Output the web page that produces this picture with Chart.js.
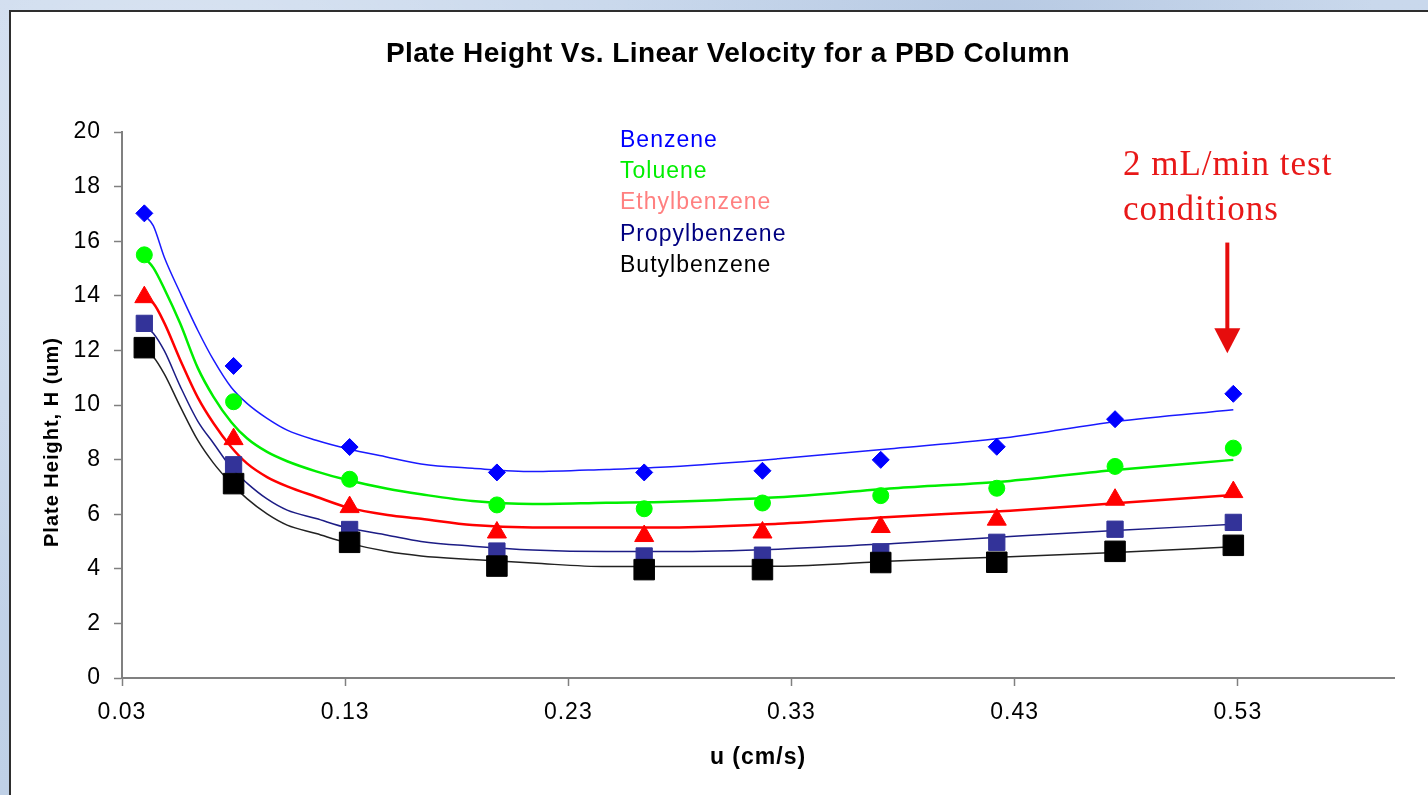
<!DOCTYPE html>
<html>
<head>
<meta charset="utf-8">
<title>Plate Height Vs. Linear Velocity for a PBD Column</title>
<script src="https://cdn.jsdelivr.net/npm/chart.js@4.4.1/dist/chart.umd.min.js"></script>
<style>
    html, body {
        margin: 0;
        padding: 0;
        width: 1428px;
        height: 795px;
        overflow: hidden;
        background-color: #c6d6ea;
        background-image:
            radial-gradient(circle at 12% 20%, rgba(255, 255, 255, 0.35), transparent 35%),
            radial-gradient(circle at 70% 5%, rgba(150, 175, 210, 0.35), transparent 30%),
            linear-gradient(180deg, #c9d8ec, #bfd0e6);
    }
    .panel {
        position: absolute;
        left: 9px;
        top: 10px;
        width: 1440px;
        height: 800px;
        background: #ffffff;
        border: 2px solid #2e2e2e;
    }
    #plateChart {
        position: absolute;
        left: 0;
        top: 0;
    }
</style>
</head>
<body>
<div class="panel"></div>
<canvas id="plateChart" width="1428" height="795"></canvas>

<script>
// --- Measured data: linear velocity u (cm/s) vs plate height H (um) ---
const compounds = ['Benzene', 'Toluene', 'Ethylbenzene', 'Propylbenzene', 'Butylbenzene'];

const uData = [0.04, 0.08, 0.132, 0.198, 0.264, 0.317, 0.37, 0.422, 0.475, 0.528];
const benzeneH = [17.02, 11.43, 8.46, 7.53, 7.53, 7.59, 7.99, 8.47, 9.48, 10.41];
const tolueneH = [15.5, 10.12, 7.28, 6.34, 6.2, 6.41, 6.68, 6.95, 7.75, 8.42];
const ethylbenzeneH = [13.95, 8.75, 6.26, 5.33, 5.2, 5.33, 5.53, 5.8, 6.53, 6.81];
const propylbenzeneH = [12.99, 7.81, 5.44, 4.65, 4.47, 4.5, 4.62, 4.97, 5.45, 5.7];
const butylbenzeneH = [12.1, 7.12, 4.97, 4.1, 3.97, 3.97, 4.23, 4.24, 4.64, 4.86];

// --- Fitted curves ---
const uFit = [0.04, 0.044, 0.049, 0.056, 0.064, 0.071, 0.079, 0.086, 0.095, 0.104, 0.117, 0.131,
              0.149, 0.164, 0.187, 0.214, 0.247, 0.276, 0.324, 0.376, 0.428, 0.475, 0.528];
const benzeneFit = [16.95, 16.57, 15.4, 14.12, 12.73, 11.65, 10.64, 10.06, 9.51, 9.08, 8.71, 8.4,
                    8.09, 7.84, 7.68, 7.56, 7.64, 7.74, 8.03, 8.41, 8.82, 9.39, 9.83];
const tolueneFit = [15.4, 15.03, 14.25, 13.0, 11.35, 10.3, 9.37, 8.78, 8.28, 7.94, 7.57, 7.25,
                    6.93, 6.73, 6.48, 6.37, 6.42, 6.46, 6.62, 6.95, 7.22, 7.62, 7.99];
const ethylbenzeneFit = [13.9, 13.73, 13.0, 11.67, 10.27, 9.33, 8.45, 7.86, 7.36, 7.02, 6.64, 6.25,
                         5.97, 5.83, 5.6, 5.51, 5.51, 5.51, 5.65, 5.91, 6.13, 6.4, 6.7];
const propylbenzeneFit = [12.9, 12.63, 11.98, 10.7, 9.4, 8.6, 7.7, 7.14, 6.56, 6.15, 5.84, 5.5,
                          5.23, 5.0, 4.83, 4.69, 4.63, 4.63, 4.72, 4.93, 5.18, 5.4, 5.63];
const butylbenzeneFit = [12.0, 11.77, 11.13, 9.96, 8.7, 7.87, 7.12, 6.57, 6.01, 5.6, 5.29, 4.95,
                         4.63, 4.47, 4.34, 4.21, 4.08, 4.08, 4.09, 4.29, 4.44, 4.6, 4.81];

// --- Axis ticks ---
const xTicks = [0.03, 0.13, 0.23, 0.33, 0.43, 0.53];
const yTicks = [0, 2, 4, 6, 8, 10, 12, 14, 16, 18, 20];

const SANS = '"Liberation Sans", Arial, sans-serif';
const SERIF = '"Liberation Serif", "Times New Roman", serif';

function toPoints(xs, ys) {
    return xs.map((u, i) => ({ x: u, y: ys[i] }));
}

// marker series
const markerStyles = [
    { data: benzeneH, style: 'rectRot', radius: 8.5, color: '#0000ff' },
    { data: tolueneH, style: 'circle', radius: 8, color: '#00ff00' },
    { data: ethylbenzeneH, style: 'triangle', radius: 11, color: '#ff0000' },
    { data: propylbenzeneH, style: 'rect', radius: 11.5, color: '#333399' },
    { data: butylbenzeneH, style: 'rect', radius: 14.5, color: '#000000' }
];

// fitted line series
const fitStyles = [
    { data: benzeneFit, color: '#1a1aff', width: 1.5 },
    { data: tolueneFit, color: '#00ee00', width: 2.5 },
    { data: ethylbenzeneFit, color: '#ff0000', width: 2.5 },
    { data: propylbenzeneFit, color: '#1c1c85', width: 1.5 },
    { data: butylbenzeneFit, color: '#222222', width: 1.5 }
];

// legend text colours
const legendColors = ['#0000ff', '#00ee00', '#ff8080', '#000080', '#000000'];

const datasets = [];
fitStyles.forEach((f, i) => {
    datasets.push({
        label: compounds[i] + ' fit',
        data: toPoints(uFit, f.data),
        showLine: true,
        borderColor: f.color,
        borderWidth: f.width,
        pointRadius: 0,
        cubicInterpolationMode: 'monotone',
        order: 10
    });
});
markerStyles.forEach((m, i) => {
    datasets.push({
        label: compounds[i],
        data: toPoints(uData, m.data),
        showLine: false,
        pointStyle: m.style,
        pointRadius: m.radius,
        pointBackgroundColor: m.color,
        pointBorderColor: m.color,
        pointBorderWidth: 1,
        order: 5 - i
    });
});

// Titles, in-plot legend and test-condition arrow
const overlayText = {
    id: 'overlayText',
    beforeDraw(chart) {
        chart.ctx.letterSpacing = '1px';
    },
    afterDraw(chart) {
        const { ctx, scales: { x, y } } = chart;
        ctx.save();
        ctx.textBaseline = 'alphabetic';

        // chart title
        ctx.letterSpacing = '0.4px';
        ctx.fillStyle = '#000';
        ctx.textAlign = 'center';
        ctx.font = 'bold 28px ' + SANS;
        ctx.fillText('Plate Height Vs. Linear Velocity for a PBD Column', 728, 62);

        // y axis title
        ctx.letterSpacing = '1px';
        ctx.save();
        ctx.translate(52, 442);
        ctx.rotate(-Math.PI / 2);
        ctx.textBaseline = 'middle';
        ctx.font = 'bold 20px ' + SANS;
        ctx.fillText('Plate Height, H (um)', 0, 0);
        ctx.restore();

        // legend (text only)
        ctx.textAlign = 'left';
        ctx.font = '23px ' + SANS;
        compounds.forEach((name, i) => {
            ctx.fillStyle = legendColors[i];
            ctx.fillText(name, 620, 147 + i * 31.2);
        });

        // annotation
        const ax = x.getPixelForValue(uData[uData.length - 1]) - 6;
        ctx.fillStyle = '#e81818';
        ctx.font = '35px ' + SERIF;
        ctx.fillText('2 mL/min test', 1123, 175);
        ctx.fillText('conditions', 1123, 220);

        const top = y.getPixelForValue(15.95);
        const tip = y.getPixelForValue(11.9);
        ctx.strokeStyle = '#e60d0d';
        ctx.lineWidth = 4;
        ctx.beginPath();
        ctx.moveTo(ax, top);
        ctx.lineTo(ax, tip - 20);
        ctx.stroke();
        ctx.fillStyle = '#e60d0d';
        ctx.beginPath();
        ctx.moveTo(ax - 13, tip - 25);
        ctx.lineTo(ax + 13, tip - 25);
        ctx.lineTo(ax, tip);
        ctx.closePath();
        ctx.fill();
        ctx.restore();
    }
};

new Chart(document.getElementById('plateChart').getContext('2d'), {
    type: 'scatter',
    data: { datasets: datasets },
    options: {
        responsive: false,
        animation: false,
        devicePixelRatio: 1,
        layout: {
            padding: { top: 132, left: 30, right: 34, bottom: 10 }
        },
        plugins: {
            legend: { display: false },
            tooltip: { enabled: false },
            title: { display: false }
        },
        scales: {
            x: {
                type: 'linear',
                position: 'bottom',
                min: 0.03,
                max: 0.6,
                afterBuildTicks: scale => {
                    scale.ticks = xTicks.map(v => ({ value: v }));
                },
                afterFit: scale => {
                    scale.height = 107;
                },
                ticks: {
                    color: '#000',
                    font: { family: SANS, size: 23 },
                    padding: 13,
                    maxRotation: 0,
                    callback: v => v.toFixed(2)
                },
                grid: {
                    drawOnChartArea: false,
                    drawTicks: true,
                    tickLength: 8,
                    tickColor: '#808080',
                    tickWidth: 1.5
                },
                border: { display: true, color: '#808080', width: 2 },
                title: {
                    display: true,
                    text: 'u (cm/s)',
                    color: '#000',
                    font: { family: SANS, size: 23, weight: 'bold' },
                    padding: { top: 0, bottom: 14 }
                }
            },
            y: {
                type: 'linear',
                position: 'left',
                min: 0,
                max: 20,
                afterBuildTicks: scale => {
                    scale.ticks = yTicks.map(v => ({ value: v }));
                },
                afterFit: scale => {
                    scale.width = 92;
                },
                ticks: {
                    color: '#000',
                    font: { family: SANS, size: 23 },
                    padding: 13,
                    callback: v => v
                },
                grid: {
                    drawOnChartArea: false,
                    drawTicks: true,
                    tickLength: 8,
                    tickColor: '#808080',
                    tickWidth: 1.5
                },
                border: { display: true, color: '#808080', width: 2 }
            }
        }
    },
    plugins: [overlayText]
});
</script>
</body>
</html>
